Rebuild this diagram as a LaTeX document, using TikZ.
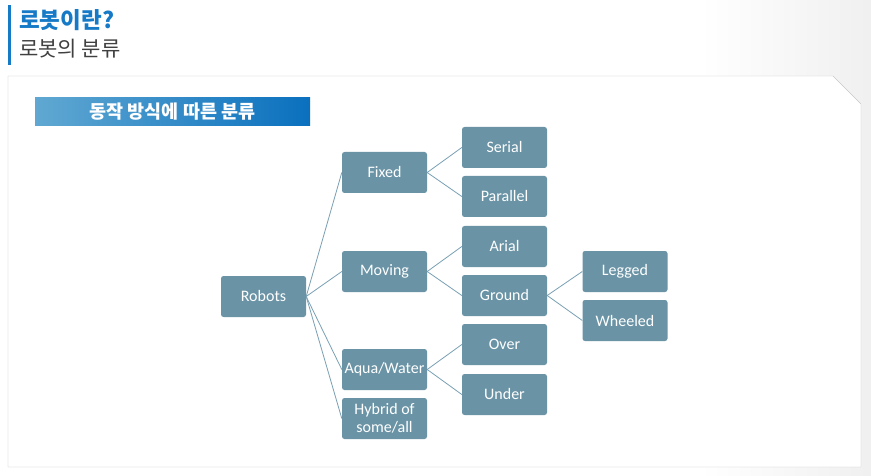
\documentclass[tikz,border=0pt]{standalone}
\usepackage{fontspec}
\setmainfont{Carlito}
\newfontfamily\kofont{Noto Sans CJK KR}
\newfontfamily\kofontmed{Noto Sans CJK KR Medium}
\usetikzlibrary{positioning}
\definecolor{boxblue}{RGB}{106,148,166}
\definecolor{linkblue}{RGB}{122,160,180}
\definecolor{titleblue}{RGB}{22,122,198}
\definecolor{bardark}{RGB}{10,112,190}
\definecolor{barlight}{RGB}{96,168,210}
\tikzset{
  box/.style={draw=none, fill=boxblue, rounded corners=2.5pt, minimum width=85pt,
    minimum height=41pt, align=center, text=white, font=\fontsize{16}{17}\selectfont,
    inner sep=1pt},
  link/.style={draw=linkblue, line width=0.8pt}
}
\begin{document}
\begin{tikzpicture}[x=1pt, y=-1pt]
\useasboundingbox (0,0) rectangle (871,476);
\fill[white] (0,0) rectangle (871,476);
\shade[left color=white, right color=black!6] (700,0) rectangle (871,476);
% title
\fill[titleblue] (8,5) rectangle (11,65);
\node[anchor=west, text=titleblue, font=\kofont\bfseries\fontsize{22.5}{24}\selectfont, inner sep=0pt] (ttl) at (19,20) {로봇이란?};
\node[anchor=west, text=black!75, font=\kofont\fontsize{21}{22}\selectfont, inner sep=0pt] (sub) at (19,49) {로봇의 분류};
% frame
\draw[black!22, fill=white] (8,76) -- (833,76) -- (861,104) -- (861,467) -- (8,467) -- cycle;
% header bar
\shade[left color=barlight, right color=bardark] (35,98) rectangle (310,126);
\node[text=white, font=\kofont\bfseries\fontsize{18.5}{19}\selectfont, inner sep=0pt] (hdr) at (172.5,112) {동작 방식에 따른 분류};
% nodes
\node[box] (robots) at (263.5,296.5) {Robots};
\node[box] (fixed) at (384.5,172.5) {Fixed};
\node[box] (moving) at (384.5,271.5) {Moving};
\node[box] (aqua) at (384.5,369.5) {Aqua/Water};
\node[box, font=\fontsize{16}{18}\selectfont] (hybrid) at (384.5,418.5) {Hybrid of\\some/all};
\node[box] (serial) at (504.5,147.5) {Serial};
\node[box] (parallel) at (504.5,196.5) {Parallel};
\node[box] (arial) at (504.5,246.5) {Arial};
\node[box] (ground) at (504.5,295.5) {Ground};
\node[box] (over) at (504.5,344.5) {Over};
\node[box] (under) at (504.5,394.5) {Under};
\node[box] (legged) at (625,271.5) {Legged};
\node[box] (wheeled) at (625,320.5) {Wheeled};
% links
\foreach \a/\b in {robots/fixed, robots/moving, robots/aqua, robots/hybrid,
  fixed/serial, fixed/parallel, moving/arial, moving/ground,
  aqua/over, aqua/under, ground/legged, ground/wheeled}
  \draw[link] (\a.east) -- (\b.west);
\end{tikzpicture}
\end{document}
